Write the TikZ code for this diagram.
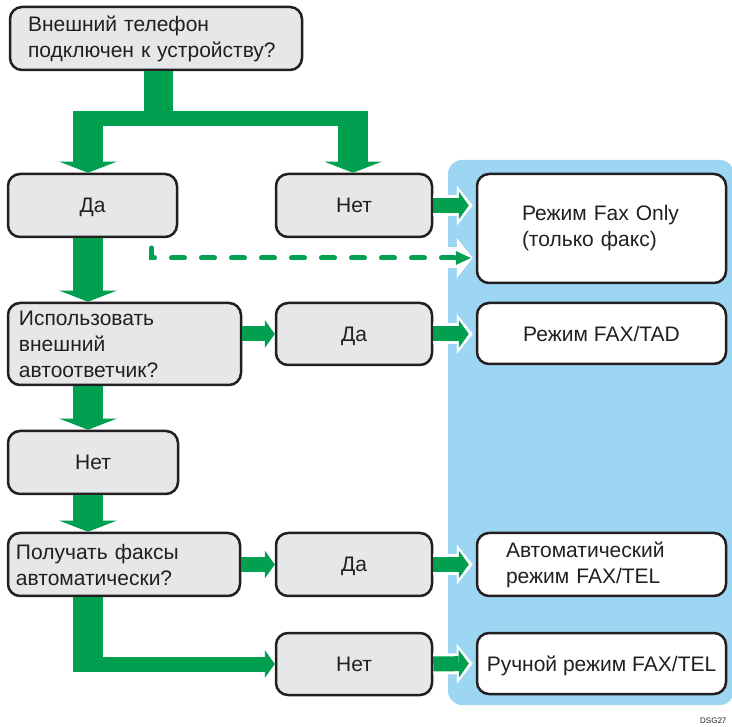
\documentclass[tikz,border=0pt]{standalone}
\usepackage{fontspec}
\setmainfont{Liberation Sans}
\usetikzlibrary{arrows.meta,positioning,calc}
\definecolor{FlowGreen}{RGB}{0,160,80}
\definecolor{PanelBlue}{RGB}{157,214,243}
\definecolor{BoxGray}{RGB}{230,231,232}
\definecolor{InkDark}{RGB}{35,31,32}
\tikzset{
  ask/.style={rounded corners=12pt,draw=InkDark,line width=2.5pt,fill=BoxGray,
              text=InkDark,font=\fontsize{21}{26}\selectfont,inner sep=0pt},
  mode/.style={ask,fill=white},
  word/.style={text depth=0pt},
  vline/.style={draw=FlowGreen,line width=30pt},
  hline/.style={draw=FlowGreen,line width=15pt},
  vflow/.style={vline,-{Triangle[width=57pt,length=11pt,line width=0pt]}},
  hflow/.style={hline,-{Triangle[width=28pt,length=10pt,line width=0pt]}},
  halo/.style={preaction={draw=white,line width=21pt,shorten >=3pt,
               -{Triangle[width=40pt,length=16pt,line width=0pt]}}},
  hflowin/.style={hflow,halo,shorten >=7pt},
  dflow/.style={draw=FlowGreen,line width=5pt,line cap=round,
                dash pattern=on 13pt off 17pt,shorten >=5pt,
                -{Triangle[width=14pt,length=15pt,line width=0pt]}},
}

\begin{document}
\begin{tikzpicture}[x=1pt,y=-1pt]
  \useasboundingbox (0,0) rectangle (732,727);
  \fill[PanelBlue,rounded corners=14pt] (448,160) rectangle (734,705);

  % questions and answers
  \node[ask,minimum width=292pt,minimum height=63pt,text width=256pt,align=left] (q1) at (156,38.5)
    {Внешний телефон\\подключен к устройству?};
  \node[ask,word,minimum width=169pt,minimum height=63pt] (yes1) at (92.5,205.5) {Да};
  \node[ask,word,minimum width=156pt,minimum height=63pt] (no1) at (354,205.5) {Нет};
  \node[ask,minimum width=233pt,minimum height=82pt,text width=211pt,align=left] (q2) at (124.5,344)
    {Использовать\\внешний\\автоответчик?};
  \node[ask,word,minimum width=156pt,minimum height=62pt] (yes2) at (354,334) {Да};
  \node[ask,word,minimum width=170pt,minimum height=63pt] (no2) at (93,462.5) {Нет};
  \node[ask,minimum width=232pt,minimum height=63pt,text width=216pt,align=left] (q3) at (124,564.5)
    {Получать факсы\\автоматически?};
  \node[ask,word,minimum width=156pt,minimum height=63pt] (yes3) at (354,564.5) {Да};
  \node[ask,word,minimum width=156pt,minimum height=62pt] (no3) at (354,664) {Нет};

  % resulting modes
  \node[mode,minimum width=249pt,minimum height=109pt,text width=159pt,align=left] (faxonly) at (601.5,228.5)
    {Режим Fax Only\\(только факс)};
  \node[mode,word,minimum width=249pt,minimum height=61pt] (fxtad) at (601.5,333.5) {Режим FAX/TAD};
  \node[mode,minimum width=249pt,minimum height=63pt,text width=191pt,align=left] (autotel) at (601.5,564.5)
    {Автоматический\\режим FAX/TEL};
  \node[mode,word,minimum width=249pt,minimum height=61pt] (mantel) at (601.5,663.5) {Ручной режим FAX/TEL};

  % fork under the first question
  \coordinate (trunk) at (158.5,118.5);
  \coordinate (forkL) at (88,118.5);
  \coordinate (forkR) at (353,118.5);
  \coordinate (col) at (88,0);
  \draw[vline,line width=29pt] (q1.south -| trunk) -- ([yshift=-7.5pt]trunk);
  \draw[hline] ([xshift=-15pt]forkL) -- ([xshift=15pt]forkR);
  \draw[vflow] ([yshift=7.5pt]forkL) -- (forkL |- yes1.north);
  \draw[vflow] ([yshift=7.5pt]forkR) -- (forkR |- no1.north);

  % down the left column
  \draw[vflow] (yes1.south -| col) -- (q2.north -| col);
  \draw[vflow] (q2.south -| col) -- (no2.north -| col);
  \draw[vflow] (no2.south -| col) -- (q3.north -| col);
  \draw[vline] (q3.south -| col) -- ([yshift=-7.5pt]col |- no3.west);
  \draw[hflow] ([xshift=-15pt]col |- no3.west) -- (no3.west);

  % across
  \draw[hflow] (q2.east |- yes2.west) -- (yes2.west);
  \draw[hflow] (q3.east) -- (yes3.west);
  \draw[hflowin] (no1.east) -- (faxonly.west |- no1.east);
  \draw[hflowin] (yes2.east) -- (fxtad.west |- yes2.east);
  \draw[hflowin] (yes3.east) -- (autotel.west);
  \draw[hflowin] (no3.east) -- (mantel.west);

  % dashed shortcut
  \coordinate (dstart) at (151.5,248);
  \draw[dflow,halo] (dstart) |- ([yshift=-29.5pt]faxonly.west);

  \node[anchor=west,font=\fontsize{8}{8}\selectfont,text=InkDark,inner sep=0pt] (tag) at (700,721) {DSG27};
\end{tikzpicture}
\end{document}
